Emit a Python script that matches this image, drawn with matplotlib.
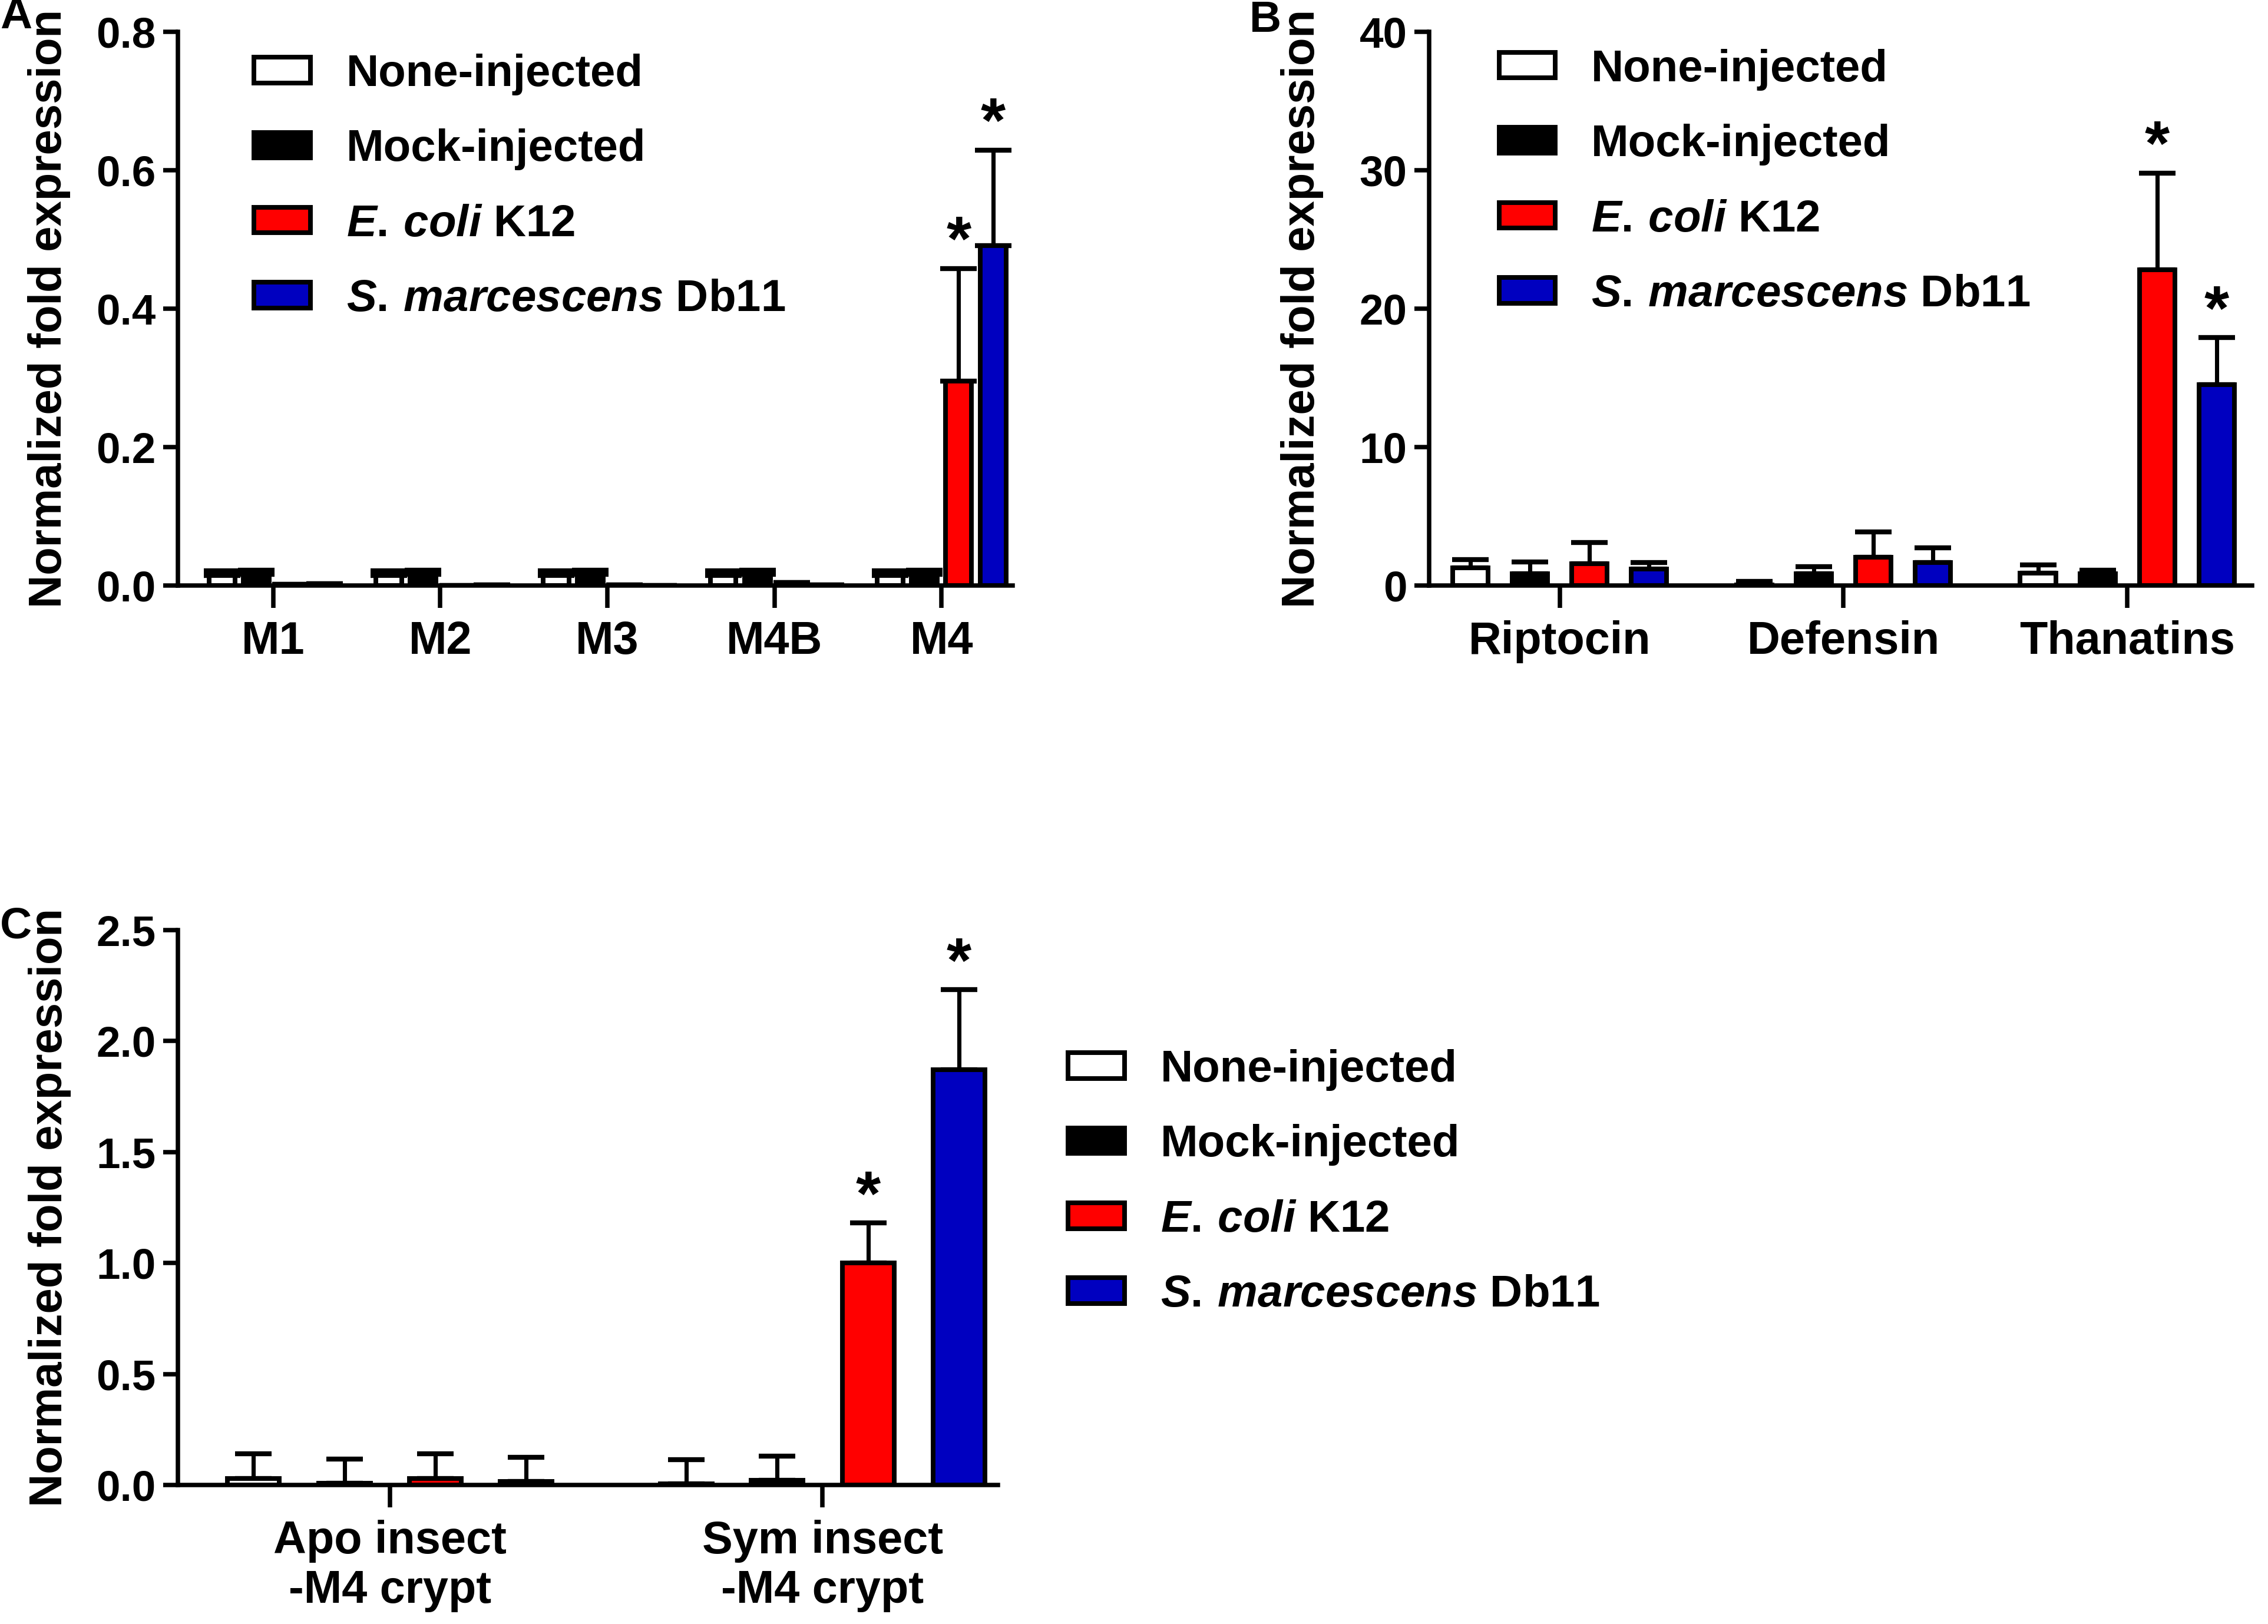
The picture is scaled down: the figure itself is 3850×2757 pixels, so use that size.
import numpy as np
import matplotlib
matplotlib.use("Agg")
import matplotlib.pyplot as plt
from matplotlib.patches import Patch

plt.rcParams['font.family'] = ['Liberation Sans', 'DejaVu Sans']
plt.rcParams['font.weight'] = 'bold'
plt.rcParams['mathtext.fontset'] = 'custom'
plt.rcParams['mathtext.rm'] = 'Liberation Sans:bold'
plt.rcParams['mathtext.it'] = 'Liberation Sans:italic:bold'
plt.rcParams['mathtext.bf'] = 'Liberation Sans:bold'

# ---------------- data ----------------
series_labels = ['None-injected', 'Mock-injected',
                 r'$\mathit{E.\,coli}$ K12', r'$\mathit{S.\,marcescens}$ Db11']
series_colors = ['white', 'black', '#FF0000', '#0000C0']

cats_A = ['M1', 'M2', 'M3', 'M4B', 'M4']
none_A = [0.015, 0.015, 0.015, 0.015, 0.015]
none_A_err = [0.006, 0.006, 0.006, 0.006, 0.006]
mock_A = [0.016, 0.016, 0.016, 0.016, 0.016]
mock_A_err = [0.006, 0.006, 0.006, 0.006, 0.006]
ecoli_A = [0.002, 0.0005, 0.001, 0.004, 0.295]
ecoli_A_err = [0.0, 0.0, 0.0, 0.0, 0.163]
smar_A = [0.003, 0.001, 0.0003, 0.001, 0.491]
smar_A_err = [0.0, 0.0, 0.0, 0.0, 0.138]
sig_A = [(4, 2), (4, 3)]

cats_B = ['Riptocin', 'Defensin', 'Thanatins']
none_B = [1.3, 0.05, 0.9]
none_B_err = [0.6, 0.25, 0.6]
mock_B = [0.85, 0.85, 0.85]
mock_B_err = [0.85, 0.5, 0.25]
ecoli_B = [1.6, 2.05, 22.8]
ecoli_B_err = [1.5, 1.85, 7.0]
smar_B = [1.2, 1.65, 14.5]
smar_B_err = [0.45, 1.1, 3.4]
sig_B = [(2, 2), (2, 3)]

cats_C = ['Apo insect\n-M4 crypt', 'Sym insect\n-M4 crypt']
none_C = [0.03, 0.005]
none_C_err = [0.11, 0.11]
mock_C = [0.008, 0.022]
mock_C_err = [0.11, 0.11]
ecoli_C = [0.03, 1.0]
ecoli_C_err = [0.11, 0.18]
smar_C = [0.016, 1.87]
smar_C_err = [0.11, 0.36]
sig_C = [(1, 2), (1, 3)]

# ---------------- figure ----------------
W, H = 3850, 2757
DPI = 300
fig = plt.figure(figsize=(W / DPI, H / DPI), dpi=DPI)

LW = 1.9
YTICK_FS = 17.5
XTICK_FS = 18.6
YLAB_FS = 18.7
LEG_FS = 18.3


def panel(rect, cats, vals, errs, sig, pitch, width, xlim, ylim, yticks, fmt, star_off):
    ax = fig.add_axes(rect)
    x = np.arange(len(cats))
    offs = (np.arange(4) - 1.5) * pitch
    for i in range(4):
        ax.bar(x + offs[i], vals[i], width, color=series_colors[i], edgecolor='black',
               linewidth=LW, zorder=3)
        ax.errorbar(x + offs[i], vals[i], yerr=[np.zeros(len(cats)), errs[i]], fmt='none',
                    ecolor='black', elinewidth=1.7, capsize=7.5, capthick=2.0, zorder=2)
    for (g, s) in sig:
        top = vals[s][g] + errs[s][g]
        ax.annotate('*', (x[g] + offs[s], top), xytext=(0, star_off), textcoords='offset points',
                    ha='center', va='bottom', fontsize=26, fontweight='bold')
    ax.set_xlim(*xlim)
    ax.set_ylim(*ylim)
    ax.set_yticks(yticks)
    ax.set_yticklabels([fmt.format(t) for t in yticks], fontsize=YTICK_FS, fontweight='bold')
    ax.set_xticks(x)
    ax.set_xticklabels(cats, fontsize=XTICK_FS, fontweight='bold')
    for sp in ['top', 'right']:
        ax.spines[sp].set_visible(False)
    for sp in ['left', 'bottom']:
        ax.spines[sp].set_linewidth(1.8)
    ax.tick_params(axis='y', length=6, width=1.8, pad=3)
    ax.tick_params(axis='x', length=9, width=1.8, pad=5)
    ax.set_ylabel('Normalized fold expression', fontsize=YLAB_FS, fontweight='bold')
    return ax


def legend(ax, anchor):
    handles = [Patch(facecolor=c, edgecolor='black', linewidth=LW) for c in series_colors]
    ax.legend(handles, series_labels, loc='upper left', bbox_to_anchor=anchor,
              bbox_transform=fig.transFigure, frameon=False,
              handlelength=1.25, handleheight=0.5, handletextpad=0.8, labelspacing=0.74,
              borderaxespad=0, borderpad=0, prop={'weight': 'bold', 'size': LEG_FS})


axA = panel([0.0784, 0.6394, 0.368, 0.341], cats_A,
            [none_A, mock_A, ecoli_A, smar_A],
            [none_A_err, mock_A_err, ecoli_A_err, smar_A_err], sig_A,
            0.205, 0.155, (-0.571, 4.424), (0, 0.8), [0, 0.2, 0.4, 0.6, 0.8], '{:.1f}', -2)
axA.yaxis.set_label_coords(-0.128, 0.5)
legend(axA, (0.112, 0.967))

axB = panel([0.6301, 0.6394, 0.363, 0.341], cats_B,
            [none_B, mock_B, ecoli_B, smar_B],
            [none_B_err, mock_B_err, ecoli_B_err, smar_B_err], sig_B,
            0.21, 0.125, (-0.46, 2.44), (0, 40), [0, 10, 20, 30, 40], '{:.0f}', -2)
axB.yaxis.set_label_coords(-0.128, 0.5)
legend(axB, (0.661, 0.970))

axC = panel([0.0784, 0.0855, 0.3616, 0.3419], cats_C,
            [none_C, mock_C, ecoli_C, smar_C],
            [none_C_err, mock_C_err, ecoli_C_err, smar_C_err], sig_C,
            0.21, 0.12, (-0.49, 1.405), (0, 2.5), [0, 0.5, 1.0, 1.5, 2.0, 2.5], '{:.1f}', -2)
axC.yaxis.set_label_coords(-0.13, 0.5)
legend(axC, (0.471, 0.354))

for lab, (fx, fy) in zip(['A', 'B', 'C'], [(0.0, 1.002), (0.551, 1.0), (0.0, 0.442)]):
    fig.text(fx, fy, lab, fontsize=18, fontweight='bold', ha='left', va='top')

fig.savefig('out.png', dpi=DPI)
